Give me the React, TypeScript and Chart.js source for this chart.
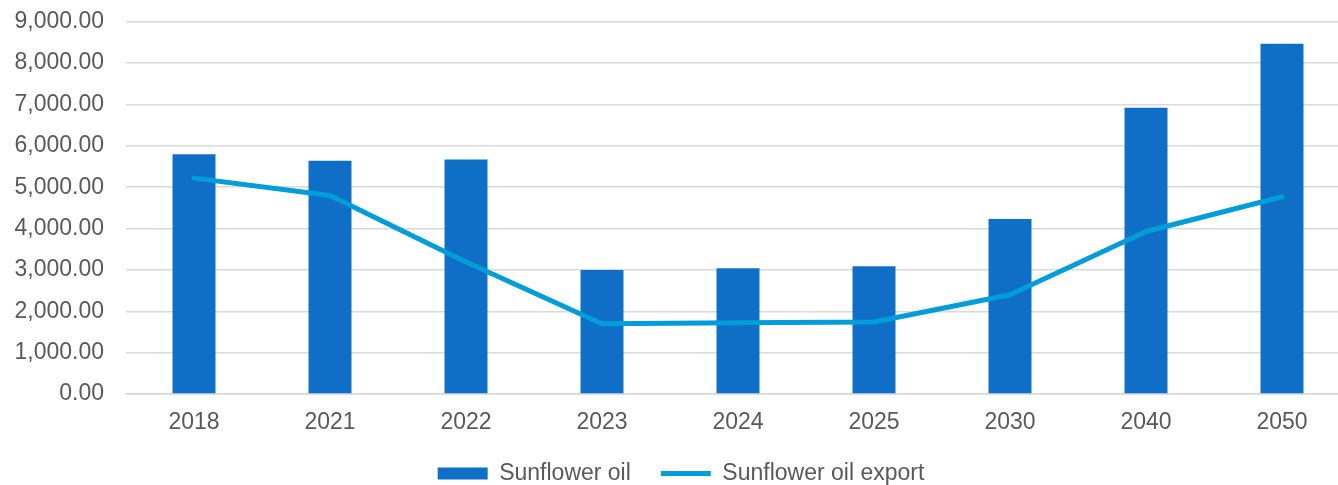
import React, { useEffect, useRef } from "react";
import { Chart, registerables } from "chart.js";

Chart.register(...registerables);

const categories = ["2018", "2021", "2022", "2023", "2024", "2025", "2030", "2040", "2050"];
const sunflowerOil = [5800, 5640, 5670, 3000, 3040, 3090, 4230, 6920, 8470];
const sunflowerOilExport = [5220, 4800, 3190, 1700, 1720, 1740, 2400, 3930, 4770];

const FONT = "'Liberation Sans', Arial, sans-serif";
const TEXT = "#595959";
const FS = 23;

const legendFitPlugin = {
  id: "legendFit",
  afterInit(chart: any) {
    const legend = chart.legend;
    if (!legend || legend.__patched) return;
    const orig = legend.fit;
    legend.fit = function (this: any) {
      orig.call(this);
      this.height = Math.max(0, this.height - 10);
    };
    legend.__patched = true;
  },
};

export default function App() {
  const ref = useRef<HTMLCanvasElement | null>(null);

  useEffect(() => {
    document.body.style.margin = "0";
    const ctx = ref.current!;
    const chart = new Chart(ctx, {
      type: "bar",
      plugins: [legendFitPlugin],
      data: {
        labels: categories,
        datasets: [
          {
            type: "bar",
            label: "Sunflower oil",
            data: sunflowerOil,
            backgroundColor: "#0F6FC6",
            borderWidth: 0,
            categoryPercentage: 1,
            barPercentage: 0.316,
            order: 1,
            pointStyle: "rect",
          } as any,
          {
            type: "line",
            label: "Sunflower oil export",
            data: sunflowerOilExport,
            borderColor: "#009DD9",
            backgroundColor: "#009DD9",
            borderWidth: 5,
            borderCapStyle: "round",
            borderJoinStyle: "round",
            pointRadius: 0,
            tension: 0,
            order: 0,
            pointStyle: "line",
          } as any,
        ],
      },
      options: {
        animation: false,
        responsive: true,
        maintainAspectRatio: false,
        layout: { padding: { top: 0, left: 12, right: 0, bottom: 0 } },
        plugins: {
          tooltip: { enabled: false },
          legend: {
            position: "bottom",
            labels: {
              usePointStyle: true,
              pointStyleWidth: 50,
              boxHeight: 12,
              padding: 30,
              color: TEXT,
              font: { family: FONT, size: FS },
              sort: (a: any, b: any) => a.datasetIndex - b.datasetIndex,
            },
          },
        },
        scales: {
          x: {
            grid: { display: false, drawTicks: false },
            border: { display: true, color: "#D9D9D9", width: 1.5 },
            ticks: { color: TEXT, font: { family: FONT, size: FS }, padding: 15, maxRotation: 0 },
            afterFit: (s: any) => {
              s.height = 38;
            },
          },
          y: {
            min: 0,
            max: 9000,
            grid: { color: "#D9D9D9", lineWidth: 1.5, drawTicks: false },
            border: { display: false },
            ticks: {
              stepSize: 1000,
              color: TEXT,
              padding: 22,
              font: { family: FONT, size: FS },
              callback: (v: any) =>
                Number(v).toLocaleString("en-US", { minimumFractionDigits: 2, maximumFractionDigits: 2 }),
            },
            afterFit: (s: any) => {
              s.width = 114;
            },
          },
        },
      },
    });
    return () => chart.destroy();
  }, []);

  return (
    <div style={{ width: 1338, height: 485, overflow: "hidden", position: "relative" }}>
      <div style={{ width: 1350, height: 499, position: "absolute", left: 0, top: -14 }}>
        <canvas ref={ref} />
      </div>
    </div>
  );
}
